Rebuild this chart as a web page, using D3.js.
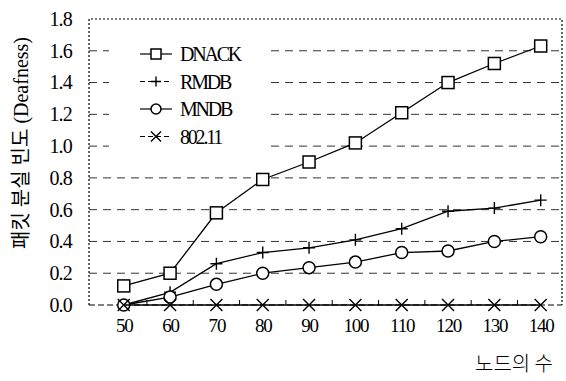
<!DOCTYPE html>
<html>
<head>
<meta charset="utf-8">
<script src="https://cdn.jsdelivr.net/npm/d3@7"></script>
<style>
    body { margin: 0; background: #fff; }
</style>
</head>
<body>
<div id="chart"></div>
<script>
const nodes = [50, 60, 70, 80, 90, 100, 110, 120, 130, 140];
const dnack = [0.12, 0.20, 0.58, 0.79, 0.90, 1.02, 1.21, 1.40, 1.52, 1.63];
const rmdb = [0.0, 0.08, 0.26, 0.33, 0.36, 0.41, 0.48, 0.59, 0.61, 0.66];
const mndb = [0.0, 0.05, 0.13, 0.20, 0.235, 0.27, 0.33, 0.34, 0.40, 0.43];
const wifi = [0, 0, 0, 0, 0, 0, 0, 0, 0, 0];
const yTicks = [0, 0.2, 0.4, 0.6, 0.8, 1.0, 1.2, 1.4, 1.6, 1.8];
const seriesNames = ['DNACK', 'RMDB', 'MNDB', '802.11'];

const serif = 'Liberation Serif, DejaVu Serif, serif';
const width = 566, height = 381;
const margin = { top: 19, right: 4, bottom: 76, left: 89 };
const innerW = width - margin.left - margin.right;
const innerH = height - margin.top - margin.bottom;

const svg = d3.select('#chart').append('svg')
    .attr('width', width)
    .attr('height', height);
const g = svg.append('g')
    .attr('transform', `translate(${margin.left},${margin.top})`);

let x = d3.scaleLinear().domain([42.5, 144.6]).range([0, innerW]);
let y = d3.scaleLinear().domain([0, 1.8]).range([innerH, 0]);

// grid lines
g.selectAll('.grid').data(yTicks.filter(d => d > 0 && d < 1.8)).enter()
    .append('line')
    .attr('x1', 0).attr('x2', innerW)
    .attr('y1', d => y(d)).attr('y2', d => y(d))
    .attr('stroke', '#333').attr('stroke-width', 1)
    .attr('stroke-dasharray', '8,6');

// dotted frame
g.append('path')
    .attr('d', `M0,${innerH}V0H${innerW}V${innerH}`)
    .attr('fill', 'none').attr('stroke', '#000')
    .attr('stroke-width', 1.2).attr('stroke-dasharray', '2,2');
g.append('line')
    .attr('x1', 0).attr('x2', innerW)
    .attr('y1', innerH).attr('y2', innerH)
    .attr('stroke', '#000').attr('stroke-dasharray', '6,3');

// minor ticks on x axis
let minor = nodes.slice(0, -1).map(d => d + 5);
g.selectAll('.minor').data(minor).enter()
    .append('line')
    .attr('x1', d => x(d)).attr('x2', d => x(d))
    .attr('y1', innerH).attr('y2', innerH - 5)
    .attr('stroke', '#000');

// axes labels
let xAxis = d3.axisBottom(x).tickValues(nodes).tickSize(0).tickPadding(14);
let xg = g.append('g').attr('transform', `translate(0,${innerH})`).call(xAxis)
    .attr('font-family', serif);
xg.select('.domain').remove();
xg.selectAll('text').attr('fill', '#000')
    .attr('font-size', 19).attr('letter-spacing', -1.2);
let yAxis = d3.axisLeft(y).tickValues(yTicks).tickSize(0).tickPadding(17)
    .tickFormat(d3.format('.1f'));
let yg = g.append('g').call(yAxis)
    .attr('font-family', serif);
yg.select('.domain').remove();
yg.selectAll('text').attr('fill', '#000')
    .attr('font-size', 20).attr('letter-spacing', -0.8);

// legend box covers grid
g.append('rect')
    .attr('x', 20).attr('y', 18).attr('width', 162).attr('height', 116)
    .attr('fill', '#fff');

const series = [dnack, rmdb, mndb, wifi];
const line = d3.line().x((d, i) => x(nodes[i])).y(d => y(d));

const drawMarker = (sel, k, s) => {
    if (k === 0) {
        sel.append('rect').attr('x', -s).attr('y', -s).attr('width', 2 * s).attr('height', 2 * s)
            .attr('fill', '#fff').attr('stroke', '#000').attr('stroke-width', 1.5);
    } else if (k === 1) {
        sel.append('path').attr('d', `M${-s},0H${s}M0,${-s}V${s}`)
            .attr('stroke', '#000').attr('stroke-width', 1.4);
    } else if (k === 2) {
        sel.append('circle').attr('r', s)
            .attr('fill', '#fff').attr('stroke', '#000').attr('stroke-width', 1.5);
    } else {
        sel.append('path').attr('d', `M${-s},${-s}L${s},${s}M${-s},${s}L${s},${-s}`)
            .attr('stroke', '#000').attr('stroke-width', 1.4);
    }
};

series.forEach((vals, k) => {
    g.append('path').datum(vals)
        .attr('d', line)
        .attr('fill', 'none').attr('stroke', '#000').attr('stroke-width', 1.3);
    vals.forEach((v, i) => {
        let m = g.append('g').attr('transform', `translate(${x(nodes[i])},${y(v)})`);
        drawMarker(m, k, 6);
    });
});

// legend
let legend = g.append('g').attr('transform', 'translate(51,35)')
    .attr('font-family', serif);
seriesNames.forEach((name, k) => {
    let row = legend.append('g').attr('transform', `translate(0,${k * 27.5})`);
    row.append('line').attr('x1', 0).attr('x2', 32)
        .attr('stroke', '#000').attr('stroke-width', 1.2)
        .attr('stroke-dasharray', k % 2 ? '5,3' : null);
    let m = row.append('g').attr('transform', 'translate(16,0)');
    drawMarker(m, k, 5);
    row.append('text').attr('x', 40).attr('y', 7)
        .attr('font-size', 20).attr('letter-spacing', -2.2)
        .text(name);
});

// axis titles
svg.append('text')
    .attr('transform', 'translate(28,143) rotate(-90)')
    .attr('text-anchor', 'middle')
    .attr('font-size', 20)
    .attr('font-family', 'Liberation Serif, Noto Sans CJK KR, serif')
    .text('패킷 분실 빈도 (Deafness)');
svg.append('text')
    .attr('x', 514).attr('y', 371)
    .attr('text-anchor', 'middle')
    .attr('font-size', 20)
    .attr('font-family', 'Noto Sans CJK KR, sans-serif')
    .attr('font-weight', 300)
    .text('노드의 수');
</script>
</body>
</html>
